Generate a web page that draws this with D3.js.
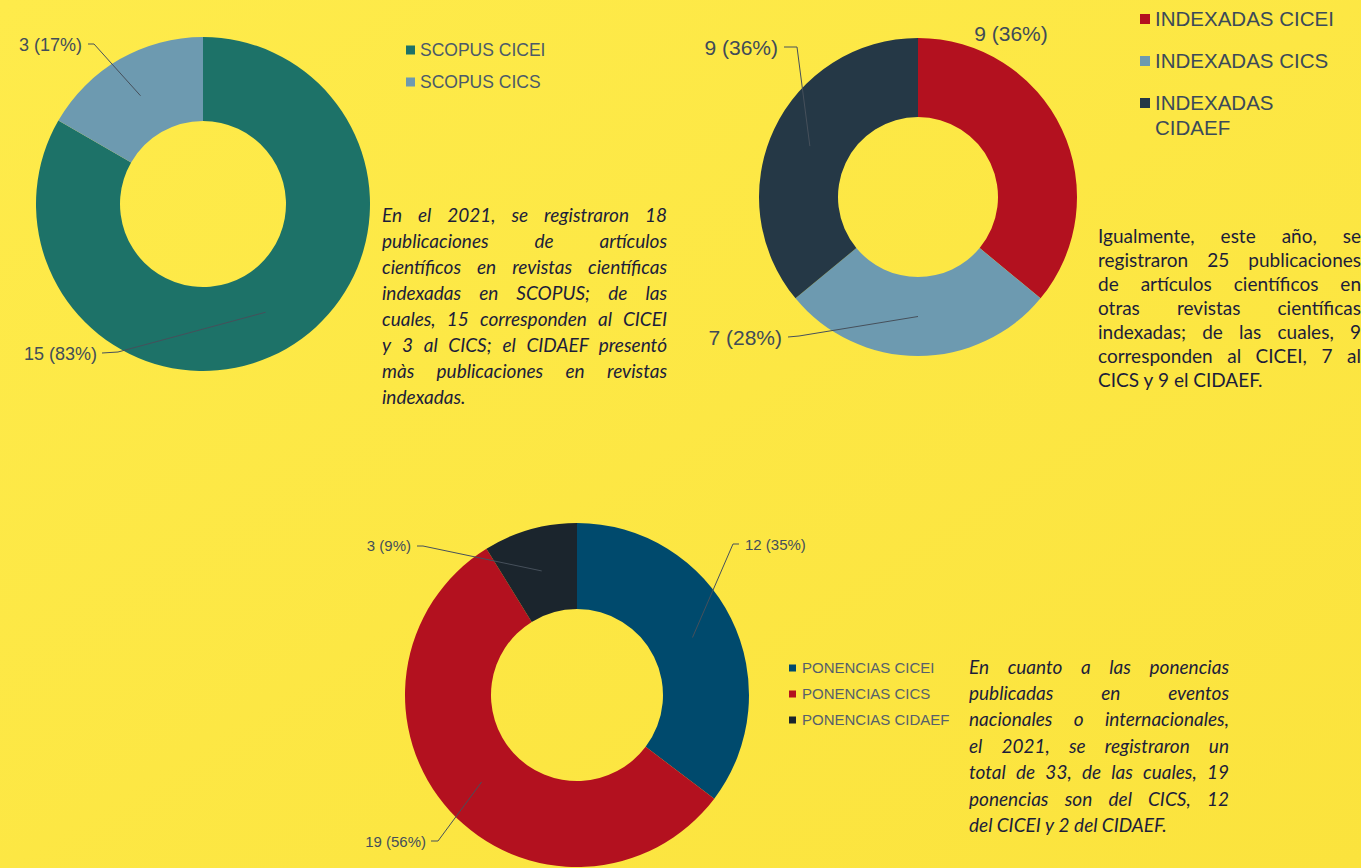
<!DOCTYPE html>
<html><head><meta charset="utf-8">
<script src="https://cdn.jsdelivr.net/npm/d3@7"></script>
<style>body{margin:0;background:#fde946;overflow:hidden}</style>
</head><body><svg id="c" width="1361" height="868"></svg>
<script>
// ---------- DATA ----------
const scopusCategories = ["SCOPUS CICEI", "SCOPUS CICS"];
const scopusValues = [15, 3];
const indexCategories = ["INDEXADAS CICEI", "INDEXADAS CICS", "INDEXADAS CIDAEF"];
const indexValues = [9, 7, 9];
const ponenciaCategories = ["PONENCIAS CICEI", "PONENCIAS CICS", "PONENCIAS CIDAEF"];
const ponenciaValues = [12, 19, 3];

const text1 = [
  "En el 2021, se registraron 18",
  "publicaciones de artículos",
  "científicos en revistas científicas",
  "indexadas en SCOPUS; de las",
  "cuales, 15 corresponden al CICEI",
  "y 3 al CICS; el CIDAEF presentó",
  "màs publicaciones en revistas",
  "indexadas."
];
const text2 = [
  "Igualmente, este año, se",
  "registraron 25 publicaciones",
  "de artículos científicos en",
  "otras revistas científicas",
  "indexadas; de las cuales, 9",
  "corresponden al CICEI, 7 al",
  "CICS y 9 el CIDAEF."
];
const text3 = [
  "En cuanto a las ponencias",
  "publicadas en eventos",
  "nacionales o internacionales,",
  "el 2021, se registraron un",
  "total de 33, de las cuales, 19",
  "ponencias son del CICS, 12",
  "del CICEI y 2 del CIDAEF."
];

// ---------- STYLE / LAYOUT ----------
const svg = d3.select("#c");
const defs = svg.append("defs");
const grad = defs.append("linearGradient").attr("id","bg").attr("x1","0").attr("y1","0").attr("x2","1").attr("y2","1");
grad.append("stop").attr("offset","0").attr("stop-color","#feeb4b");
grad.append("stop").attr("offset","1").attr("stop-color","#fbe33d");
svg.append("rect").attr("width",1361).attr("height",868).attr("fill","url(#bg)");

const charts = [
  {
    cats: scopusCategories, vals: scopusValues,
    colors: ["#1d7268", "#6d9ab0"],
    cx: 203, cy: 204, R: 167, r: 83,
    labelFont: "Liberation Sans, Arial, sans-serif", labelSize: 18, labelColor: "#424d59",
    labels: [
      {x: 97, y: 354, anchor: "end", pts: [[118,352],[102,353]]},
      {x: 82, y: 45, anchor: "end", pts: [[94,44],[88,44]]}
    ],
    legend: {x: 406, y0: 50, dy: 32, sq: 9, tx: 420, size: 17.5, color: "#4b5a69",
             font: "Liberation Sans, Arial, sans-serif", maxW: 400, lh: 20}
  },
  {
    cats: indexCategories, vals: indexValues,
    colors: ["#b3111f", "#6d9ab0", "#253846"],
    cx: 918, cy: 197, R: 159, r: 80,
    labelFont: "Liberation Sans, Arial, sans-serif", labelSize: 21, labelColor: "#3f4b58",
    labels: [
      {x: 1011, y: 34, anchor: "middle", pts: null},
      {x: 782, y: 338, anchor: "end", pts: [[799,336],[788,337]]},
      {x: 778, y: 48, anchor: "end", pts: [[797,47],[784,47]]}
    ],
    legend: {x: 1140, y0: 19, dy: 42, sq: 10, tx: 1155, size: 20.5, color: "#3b4a59",
             font: "Liberation Sans, Arial, sans-serif", maxW: 185, lh: 25}
  },
  {
    cats: ponenciaCategories, vals: ponenciaValues,
    colors: ["#004a6d", "#b3111f", "#1b252d"],
    cx: 577, cy: 695, R: 172, r: 86,
    labelFont: "Liberation Sans, Arial, sans-serif", labelSize: 15, labelColor: "#444e5a",
    labels: [
      {x: 745, y: 545, anchor: "start", pts: [[733,544],[739,544]]},
      {x: 426, y: 842, anchor: "end", pts: [[438,841],[431,841]]},
      {x: 411, y: 546, anchor: "end", pts: [[423,546],[417,546]]}
    ],
    legend: {x: 789, y0: 668, dy: 26, sq: 7, tx: 802, size: 15, color: "#56606b",
             font: "Liberation Sans, Arial, sans-serif", maxW: 400, lh: 18}
  }
];

charts.forEach(c => {
  const total = d3.sum(c.vals);
  const pie = d3.pie().sort(null).value(d => d)(c.vals);
  const arc = d3.arc().innerRadius(c.r).outerRadius(c.R);
  const mid = d3.arc().innerRadius((c.r + c.R) / 2).outerRadius((c.r + c.R) / 2);
  const g = svg.append("g").attr("transform", `translate(${c.cx},${c.cy})`);
  g.selectAll("path").data(pie).join("path")
    .attr("d", arc).attr("fill", (d, i) => c.colors[i]);

  pie.forEach((d, i) => {
    const L = c.labels[i];
    if (L.pts) {
      const cen = mid.centroid(d);
      const pts = [[c.cx + cen[0], c.cy + cen[1]], ...L.pts];
      svg.append("path").attr("d", d3.line()(pts))
        .attr("fill", "none").attr("stroke", "#46505b").attr("stroke-width", 1);
    }
    svg.append("text").attr("x", L.x).attr("y", L.y).attr("dy", "0.35em")
      .attr("text-anchor", L.anchor)
      .style("font-family", c.labelFont).style("font-size", c.labelSize + "px")
      .attr("fill", c.labelColor)
      .text(`${d.data} (${Math.round(d.data / total * 100)}%)`);
  });

  const lg = c.legend;
  c.cats.forEach((name, i) => {
    const y = lg.y0 + i * lg.dy;
    svg.append("rect").attr("x", lg.x).attr("y", y - lg.sq / 2).attr("width", lg.sq).attr("height", lg.sq)
      .attr("fill", c.colors[i]);
    const t = svg.append("text").attr("x", lg.tx).attr("y", y).attr("dy", "0.35em")
      .style("font-family", lg.font).style("font-size", lg.size + "px").attr("fill", lg.color);
    const words = name.split(" ");
    let line = [];
    let ts = t.append("tspan").attr("x", lg.tx);
    words.forEach(w => {
      line.push(w);
      ts.text(line.join(" "));
      if (ts.node().getComputedTextLength() > lg.maxW && line.length > 1) {
        line.pop(); ts.text(line.join(" "));
        line = [w];
        ts = t.append("tspan").attr("x", lg.tx).attr("dy", lg.lh).text(w);
      }
    });
  });
});

// ---------- justified paragraphs ----------
function paragraph(lines, x0, width, y0, lh, size, italic, family, color) {
  const g = svg.append("g");
  const probe = g.append("text").style("font-family", family).style("font-size", size + "px")
    .style("font-style", italic ? "italic" : "normal");
  probe.text("a a"); const w1 = probe.node().getComputedTextLength();
  probe.text("aa"); const w2 = probe.node().getComputedTextLength();
  const sp = w1 - w2; probe.remove();
  lines.forEach((line, i) => {
    const words = line.split(" ");
    const t = g.append("text").attr("y", y0 + i * lh).attr("dy", "0.35em")
      .style("font-family", family).style("font-size", size + "px")
      .style("font-style", italic ? "italic" : "normal").attr("fill", color);
    const spans = words.map(w => t.append("tspan").text(w));
    const ws = spans.map(s => s.node().getComputedTextLength());
    const last = i === lines.length - 1;
    let gap = last ? sp : (width - d3.sum(ws)) / (words.length - 1);
    if (!last && gap < sp * 0.6) { gap = sp * 0.6; }
    let x = x0;
    spans.forEach((s, j) => { s.attr("x", x); x += ws[j] + gap; });
  });
}
paragraph(text1, 382, 285, 215, 26, 19, true, "Lato, sans-serif", "#1c1d3a");
paragraph(text2, 1098, 263, 236, 24, 19, false, "Lato, sans-serif", "#1c1d3a");
paragraph(text3, 969, 260, 667, 26.4, 19, true, "Lato, sans-serif", "#1c1d3a");
</script>
</body></html>
